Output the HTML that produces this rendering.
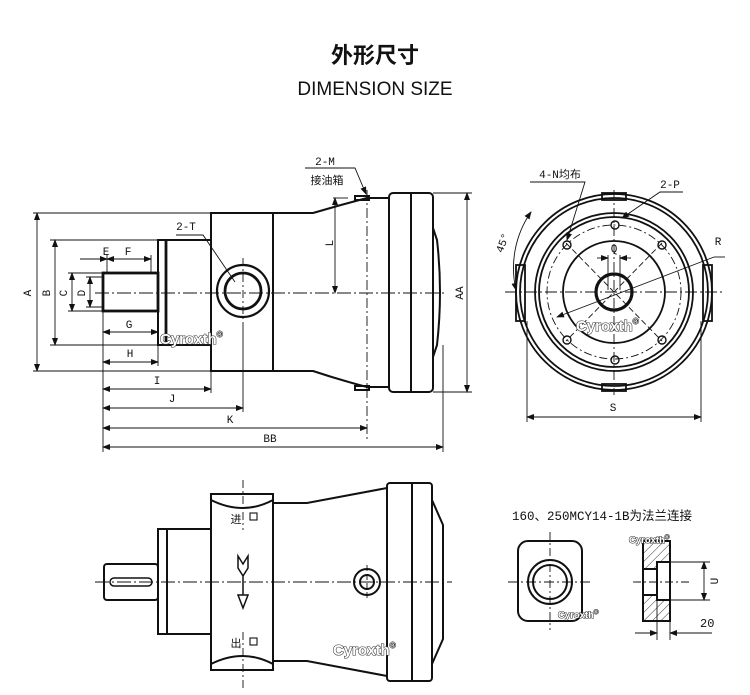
<!DOCTYPE html>
<html><head><meta charset="utf-8"><style>
html,body{margin:0;padding:0;background:#fff;}
svg{display:block}
text{font-family:"Liberation Mono","Noto Sans CJK SC",monospace;fill:#111}
.t{font-family:"Liberation Sans","Noto Sans CJK SC",sans-serif}
.w{font-family:"Liberation Sans",sans-serif;font-weight:bold;fill:#fff;stroke:#333;stroke-width:1.1;paint-order:stroke}
</style></head><body>
<svg width="750" height="695" viewBox="0 0 750 695" xmlns="http://www.w3.org/2000/svg">
<defs>
<marker id="a" markerWidth="8" markerHeight="6" refX="7" refY="3" orient="auto-start-reverse" markerUnits="userSpaceOnUse"><path d="M0,0 L8,3 L0,6z" fill="#111"/></marker>
<pattern id="h" width="6" height="6" patternUnits="userSpaceOnUse" patternTransform="rotate(45)"><line x1="0" y1="0" x2="0" y2="6" stroke="#333" stroke-width="1"/></pattern>
</defs>
<text class="t" x="375" y="63" text-anchor="middle" font-size="22" font-weight="bold">外形尺寸</text>
<text class="t" x="375" y="95" text-anchor="middle" font-size="19">DIMENSION SIZE</text>

<g fill="none" stroke="#111" stroke-width="2">
<!-- top view -->
<rect x="103" y="273" width="55" height="38" stroke-width="2.8"/>
<rect x="158" y="240" width="53" height="105"/>
<line x1="166" y1="240" x2="166" y2="345" stroke-width="2.8"/>
<rect x="211" y="213" width="62" height="158"/>
<path d="M273,213 L313,213 Q340,205 367,198 L389,198 M273,371 L313,371 Q340,380 367,387 L389,387"/>
<rect x="389" y="193" width="44" height="199" rx="4"/>
<line x1="411" y1="193" x2="411" y2="392"/>
<path d="M433,228 L437,240 Q443,292 437,345 L433,357"/>
<rect x="355" y="196" width="14" height="4"/><rect x="355" y="386" width="14" height="4"/>
<circle cx="243" cy="291" r="26" stroke-width="2.2"/>
<circle cx="243" cy="291" r="18" stroke-width="2.8"/>
</g>
<g stroke="#111" stroke-width="0.9" fill="none">
<line x1="95" y1="293" x2="445" y2="293" stroke-dasharray="14,3,2,3"/>
<line x1="243" y1="258" x2="243" y2="325" stroke-dasharray="8,3,2,3"/>
<line x1="367" y1="190" x2="367" y2="440" stroke-dasharray="10,3,2,3"/>
<path d="M176,235 L203,235 L235,282"/>
<line x1="33" y1="213" x2="211" y2="213"/><line x1="33" y1="371" x2="211" y2="371"/>
<line x1="37" y1="213" x2="37" y2="371" marker-start="url(#a)" marker-end="url(#a)"/>
<line x1="50" y1="240" x2="158" y2="240"/><line x1="50" y1="345" x2="158" y2="345"/>
<line x1="55" y1="240" x2="55" y2="345" marker-start="url(#a)" marker-end="url(#a)"/>
<line x1="68" y1="273" x2="103" y2="273"/><line x1="68" y1="311" x2="103" y2="311"/>
<line x1="72" y1="273" x2="72" y2="311" marker-start="url(#a)" marker-end="url(#a)"/>
<line x1="86" y1="277" x2="103" y2="277"/><line x1="86" y1="307" x2="103" y2="307"/>
<line x1="90" y1="277" x2="90" y2="307" marker-start="url(#a)" marker-end="url(#a)"/>
<line x1="107" y1="255" x2="107" y2="273"/><line x1="151" y1="255" x2="151" y2="273"/>
<line x1="80" y1="259" x2="107" y2="259" marker-end="url(#a)"/>
<line x1="107" y1="259" x2="151" y2="259" marker-start="url(#a)" marker-end="url(#a)"/>
<line x1="103" y1="311" x2="103" y2="452"/>
<line x1="103" y1="332" x2="158" y2="332" marker-start="url(#a)" marker-end="url(#a)"/>
<line x1="103" y1="362" x2="158" y2="362" marker-start="url(#a)" marker-end="url(#a)"/>
<line x1="158" y1="345" x2="158" y2="366"/>
<line x1="211" y1="371" x2="211" y2="393"/>
<line x1="103" y1="389" x2="211" y2="389" marker-start="url(#a)" marker-end="url(#a)"/>
<line x1="243" y1="325" x2="243" y2="412"/>
<line x1="103" y1="408" x2="243" y2="408" marker-start="url(#a)" marker-end="url(#a)"/>
<line x1="103" y1="428" x2="367" y2="428" marker-start="url(#a)" marker-end="url(#a)"/>
<line x1="443" y1="345" x2="443" y2="452"/>
<line x1="103" y1="447" x2="443" y2="447" marker-start="url(#a)" marker-end="url(#a)"/>
<line x1="433" y1="193" x2="472" y2="193"/><line x1="433" y1="392" x2="472" y2="392"/>
<line x1="467" y1="193" x2="467" y2="392" marker-start="url(#a)" marker-end="url(#a)"/>
<line x1="333" y1="198" x2="348" y2="198"/>
<line x1="335" y1="198" x2="335" y2="293" marker-start="url(#a)" marker-end="url(#a)"/>
<path d="M305,168 L355,168 L366,194" marker-end="url(#a)"/>
</g>
<g font-size="11">
<text x="28" y="296" transform="rotate(-90 28 293)" text-anchor="middle">A</text>
<text x="47" y="296" transform="rotate(-90 47 293)" text-anchor="middle">B</text>
<text x="64" y="296" transform="rotate(-90 64 293)" text-anchor="middle">C</text>
<text x="82" y="296" transform="rotate(-90 82 293)" text-anchor="middle">D</text>
<text x="106" y="255" text-anchor="middle">E</text>
<text x="128" y="255" text-anchor="middle">F</text>
<text x="129" y="328" text-anchor="middle">G</text>
<text x="130" y="357" text-anchor="middle">H</text>
<text x="157" y="384" text-anchor="middle">I</text>
<text x="172" y="402" text-anchor="middle">J</text>
<text x="230" y="423" text-anchor="middle">K</text>
<text x="270" y="442" text-anchor="middle">BB</text>
<text x="330" y="246" transform="rotate(-90 330 243)" text-anchor="middle">L</text>
<text x="460" y="296" transform="rotate(-90 460 293)" text-anchor="middle">AA</text>
<text x="186" y="230" text-anchor="middle">2-T</text>
<text x="325" y="165" text-anchor="middle">2-M</text>
<text x="327" y="184" text-anchor="middle">接油箱</text>
</g>
<text class="w" x="160" y="344" font-size="15">Cyroxth<tspan font-size="8" dy="-7">®</tspan></text>

<!-- right view -->
<g fill="none" stroke="#111" stroke-width="1.8">
<circle cx="614" cy="292" r="98"/><circle cx="614" cy="292" r="94"/>
<circle cx="614" cy="292" r="79"/><circle cx="614" cy="292" r="75"/>
<circle cx="614" cy="292" r="51"/>
<circle cx="614" cy="292" r="18" stroke-width="3.2"/>
<rect x="602" y="193" width="24" height="7"/><rect x="602" y="384" width="24" height="7"/>
<rect x="516" y="265" width="9" height="56"/><rect x="703" y="265" width="9" height="56"/>
<g stroke-width="1.4"><circle cx="615" cy="225" r="4"/><circle cx="567" cy="245" r="4"/><circle cx="662" cy="245" r="4"/><circle cx="567" cy="340" r="4"/><circle cx="662" cy="340" r="4"/><circle cx="615" cy="360" r="4"/></g>
</g>
<g stroke="#111" stroke-width="0.9" fill="none">
<circle cx="614" cy="292" r="67" stroke-dasharray="8,3,2,3"/>
<line x1="505" y1="292" x2="722" y2="292" stroke-dasharray="12,3,2,3"/>
<line x1="614" y1="190" x2="614" y2="395" stroke-dasharray="10,3,2,3"/>
<line x1="566" y1="243" x2="662" y2="341" stroke-dasharray="6,3"/><line x1="662" y1="243" x2="566" y2="341" stroke-dasharray="6,3"/>
<line x1="557" y1="317" x2="714" y2="257" marker-start="url(#a)"/>
<line x1="714" y1="257" x2="725" y2="257"/>
<line x1="608" y1="255" x2="608" y2="290"/><line x1="620" y1="255" x2="620" y2="290"/>
<line x1="597" y1="258" x2="608" y2="258" marker-end="url(#a)"/><line x1="631" y1="258" x2="620" y2="258" marker-end="url(#a)"/>
<path d="M530,182 L585,182 L567,240" marker-end="url(#a)"/>
<path d="M683,192 L660,192 L622,218" marker-end="url(#a)"/>
<path d="M531,212 A98,98 0 0 0 516,290" marker-start="url(#a)" marker-end="url(#a)"/>
<line x1="527" y1="321" x2="527" y2="422"/><line x1="701" y1="321" x2="701" y2="422"/>
<line x1="527" y1="417" x2="701" y2="417" marker-start="url(#a)" marker-end="url(#a)"/>
</g>
<g font-size="11">
<text x="560" y="178" text-anchor="middle">4-N均布</text>
<text x="670" y="188" text-anchor="middle">2-P</text>
<text x="718" y="245" text-anchor="middle">R</text>
<text x="614" y="252" text-anchor="middle">Q</text>
<text x="503" y="246" transform="rotate(-70 503 243)" text-anchor="middle">45°</text>
<text x="613" y="411" text-anchor="middle">S</text>
</g>
<text class="w" x="576" y="331" font-size="15">Cyroxth<tspan font-size="8" dy="-7">®</tspan></text>

<!-- bottom view -->
<g fill="none" stroke="#111" stroke-width="2">
<rect x="104" y="564" width="54" height="36" rx="3"/>
<rect x="110" y="578" width="42" height="8" rx="4" stroke-width="1.5"/>
<rect x="158" y="529" width="53" height="105"/>
<line x1="167" y1="529" x2="167" y2="634"/>
<rect x="211" y="494" width="62" height="176"/>
<path d="M211,500 Q243,516 273,500 M211,664 Q243,648 273,664"/>
<path d="M273,503 L307,503 Q345,496 387,488 M273,661 L307,661 Q345,668 387,676"/>
<rect x="387" y="483" width="45" height="198" rx="3"/>
<line x1="412" y1="483" x2="412" y2="681"/>
<path d="M432,500 L443,525 L443,639 L432,664"/>
<circle cx="367" cy="582" r="13"/><circle cx="367" cy="582" r="7"/>
<path d="M238,556 L243,564 L248,556 L248,568 L243,576 L238,568z M243,576 L243,595 M238,595 L248,595 L243,608z" stroke-width="1.5"/>
<rect x="250" y="513" width="7" height="7" stroke-width="1.1"/><rect x="250" y="638" width="7" height="7" stroke-width="1.1"/>
<!-- flange -->
<rect x="518" y="541" width="64" height="80" rx="10"/>
<circle cx="550" cy="582" r="22"/><circle cx="550" cy="582" r="17"/>
<path d="M643,541 L670,541 L670,621 L643,621z" fill="url(#h)"/>
<rect x="643" y="569" width="14" height="26" fill="#fff"/>
<rect x="657" y="562" width="13" height="38" fill="#fff"/>
</g>
<g stroke="#111" stroke-width="0.9" fill="none">
<line x1="95" y1="582" x2="452" y2="582" stroke-dasharray="14,3,2,3"/>
<line x1="243" y1="480" x2="243" y2="530" stroke-dasharray="8,3,2,3"/>
<line x1="243" y1="632" x2="243" y2="690" stroke-dasharray="8,3,2,3"/>
<line x1="367" y1="565" x2="367" y2="600" stroke-dasharray="6,3"/>
<line x1="508" y1="582" x2="592" y2="582" stroke-dasharray="10,3,2,3"/>
<line x1="550" y1="532" x2="550" y2="630" stroke-dasharray="8,3,2,3"/>
<line x1="633" y1="582" x2="690" y2="582" stroke-dasharray="8,3,2,3"/>
<line x1="670" y1="562" x2="710" y2="562"/><line x1="670" y1="600" x2="710" y2="600"/>
<line x1="704" y1="562" x2="704" y2="600" marker-start="url(#a)" marker-end="url(#a)"/>
<line x1="657" y1="600" x2="657" y2="640"/><line x1="670" y1="621" x2="670" y2="640"/>
<line x1="635" y1="633" x2="657" y2="633" marker-end="url(#a)"/><line x1="682" y1="633" x2="670" y2="633" marker-end="url(#a)"/>
<line x1="670" y1="633" x2="712" y2="633"/>
</g>
<g font-size="11">
<text x="236" y="523" text-anchor="middle">进</text>
<text x="236" y="647" text-anchor="middle">出</text>
<text x="512" y="520" font-size="12.5">160、250MCY14-1B为法兰连接</text>
<text x="714" y="585" transform="rotate(-90 714 581)" text-anchor="middle">U</text>
<text x="700" y="627" font-size="12">20</text>
</g>
<text class="w" x="333" y="655" font-size="15">Cyroxth<tspan font-size="8" dy="-7">®</tspan></text>
<text class="w" x="629" y="543" font-size="9.5">Cyroxth<tspan font-size="6" dy="-4">®</tspan></text>
<text class="w" x="558" y="618" font-size="9.5">Cyroxth<tspan font-size="6" dy="-4">®</tspan></text>
</svg>
</body></html>
